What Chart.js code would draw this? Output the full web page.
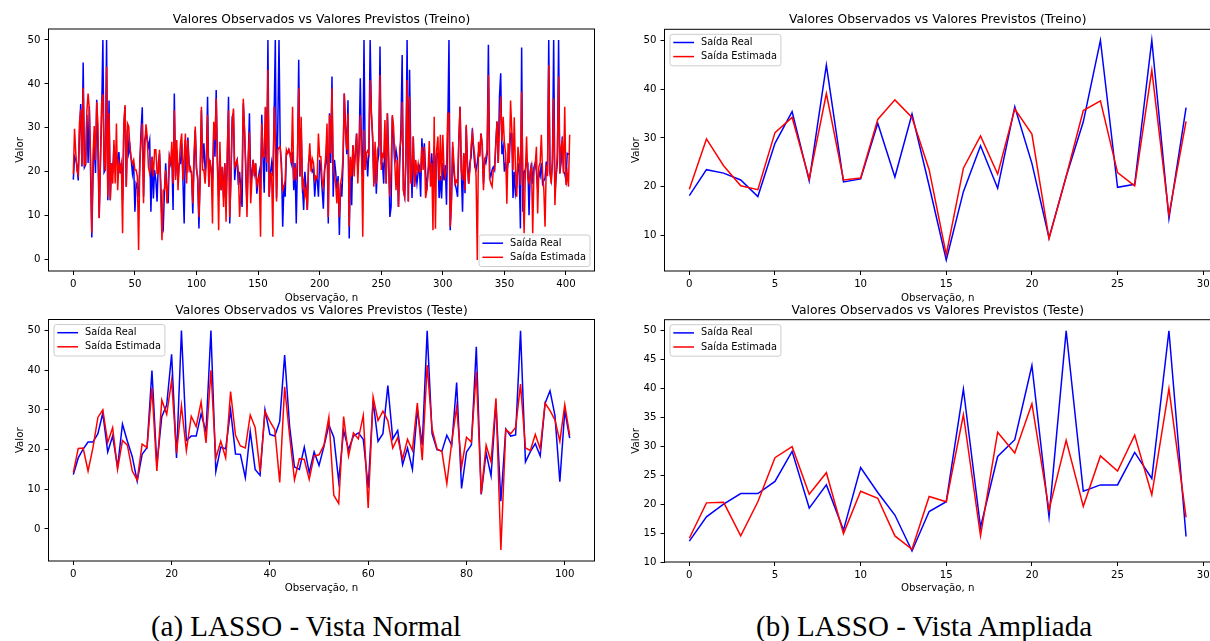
<!DOCTYPE html>
<html>
<head>
<meta charset="utf-8">
<script src="https://cdn.jsdelivr.net/npm/chart.js@4/dist/chart.umd.min.js"></script>
<style>
  html, body { margin: 0; padding: 0; background: #fff; overflow: hidden; }
  #page { position: relative; width: 1210px; height: 641px; overflow: hidden; background: #fff; }
  canvas { position: absolute; }
  .caption {
    position: absolute; top: 610px; line-height: 33px;
    font-family: 'Liberation Serif', 'DejaVu Serif', serif; font-size: 29px;
    white-space: nowrap; transform: translateX(-50%); color: #000;
  }
</style>
</head>
<body>
<div id="page">
  <canvas id="trainFull" width="605" height="308" style="left:0;top:0"></canvas>
  <canvas id="testFull" width="605" height="308" style="left:0;top:290px"></canvas>
  <canvas id="trainZoom" width="610" height="308" style="left:616px;top:0"></canvas>
  <canvas id="testZoom" width="610" height="308" style="left:616px;top:290px"></canvas>
  <div class="caption" style="left:306px">(a) LASSO - Vista Normal</div>
  <div class="caption" style="left:924px">(b) LASSO - Vista Ampliada</div>
</div>
<script>
// Observed (real) and LASSO-predicted target values, training set (404 samples)
const trainReal = [
  18.2, 23.5, 22.8, 21.4, 18.0, 28.9, 35.4, 21.2, 44.9, 21.0,
  21.6, 33.0, 22.0, 34.9, 20.2, 5.0, 19.0, 28.4, 19.7, 36.4,
  24.8, 9.5, 22.1, 33.3, 50.0, 19.9, 20.5, 50.0, 13.5, 36.2,
  13.5, 21.9, 19.6, 26.0, 21.0, 24.2, 21.9, 24.5, 19.6, 21.9,
  13.5, 30.3, 34.8, 16.6, 29.5, 24.2, 25.7, 22.7, 19.6, 21.9,
  10.9, 17.3, 16.6, 14.3, 21.9, 29.5, 34.7, 14.3, 27.2, 28.7,
  27.2, 25.7, 27.2, 10.9, 23.4, 13.9, 20.4, 18.1, 13.2, 21.9,
  24.2, 17.3, 8.2, 7.1, 15.8, 21.9, 15.1, 12.8, 23.4, 21.9,
  23.4, 11.3, 37.8, 18.9, 25.0, 18.1, 21.9, 21.9, 26.5, 18.1,
  8.2, 27.2, 19.6, 27.8, 21.9, 20.0, 20.0, 10.5, 22.0, 29.5,
  21.0, 18.0, 7.1, 20.0, 34.0, 21.9, 26.5, 20.4, 22.0, 37.1,
  16.6, 21.9, 20.4, 18.0, 29.5, 23.4, 38.6, 22.0, 14.3, 24.0,
  15.8, 21.1, 14.0, 21.9, 12.8, 22.0, 37.1, 8.2, 20.0, 32.5,
  33.3, 18.1, 21.9, 22.7, 17.0, 20.0, 15.8, 12.0, 35.6, 29.5,
  20.0, 11.9, 22.7, 33.3, 17.3, 20.0, 22.7, 19.0, 21.9, 15.0,
  18.1, 20.0, 16.0, 33.0, 23.4, 15.2, 34.7, 20.0, 50.0, 14.3,
  19.6, 22.0, 19.0, 32.0, 50.0, 14.0, 30.0, 50.0, 25.4, 21.9,
  7.5, 17.0, 14.3, 24.2, 24.2, 25.0, 24.0, 22.0, 24.5, 15.8,
  22.0, 8.2, 22.0, 45.5, 18.9, 30.0, 17.0, 11.3, 20.0, 16.0,
  11.3, 21.9, 24.0, 22.0, 20.0, 20.5, 14.3, 18.9, 18.5, 14.3,
  22.7, 20.4, 16.0, 11.6, 20.4, 22.0, 28.0, 8.2, 33.3, 22.0,
  41.7, 14.3, 22.7, 20.0, 16.0, 19.0, 5.6, 17.3, 14.3, 22.0,
  37.8, 30.3, 24.0, 36.3, 4.8, 22.7, 12.4, 26.0, 21.1, 24.0,
  28.7, 20.0, 25.0, 41.3, 24.2, 18.9, 50.0, 21.9, 24.0, 18.9,
  25.0, 50.0, 33.3, 28.0, 17.3, 25.0, 15.0, 22.0, 24.0, 48.5,
  21.9, 22.0, 17.3, 28.0, 17.3, 33.3, 24.0, 9.7, 12.0, 32.5,
  28.0, 21.9, 25.0, 23.0, 12.0, 22.0, 30.0, 46.6, 15.8, 14.3,
  22.0, 50.0, 13.2, 43.2, 24.0, 14.0, 28.0, 16.6, 20.0, 17.3,
  20.0, 21.0, 14.3, 27.6, 22.0, 26.5, 20.0, 15.8, 20.0, 22.0,
  20.0, 24.2, 18.0, 25.7, 20.0, 24.0, 24.2, 14.0, 19.0, 13.9,
  22.0, 18.0, 21.5, 12.5, 29.5, 50.0, 6.7, 14.0, 25.7, 20.0,
  17.3, 16.0, 14.3, 27.0, 34.8, 20.4, 10.9, 24.2, 15.1, 30.2,
  22.0, 17.3, 22.0, 23.4, 29.9, 25.0, 21.1, 20.4, 22.0, 24.5,
  24.2, 28.7, 26.0, 17.3, 22.7, 22.0, 24.0, 48.9, 20.0, 18.9,
  20.4, 21.1, 20.4, 26.5, 31.4, 22.0, 37.1, 42.4, 24.0, 25.7,
  20.0, 22.0, 20.0, 22.0, 24.0, 28.7, 28.7, 14.0, 20.0, 15.0,
  16.6, 22.0, 20.0, 7.1, 48.3, 10.9, 20.0, 20.4, 22.0, 22.0,
  10.1, 20.0, 22.0, 17.3, 21.0, 22.0, 20.0, 16.0, 20.0, 19.0,
  22.0, 17.3, 18.0, 18.5, 22.3, 20.0, 50.0, 19.6, 18.0, 22.0,
  50.0, 14.8, 19.0, 22.0, 50.0, 19.6, 22.0, 28.0, 20.0, 19.6,
  18.0, 24.2, 24.0, 24.2
];
const trainPred = [
  19.5, 29.8, 24.3, 20.2, 19.4, 31.1, 34.2, 21.6, 39.1, 21.4,
  21.8, 33.8, 37.8, 34.2, 23.5, 6.1, 23.8, 30.4, 22.6, 35.9,
  30.8, 9.4, 22.1, 35.6, 37.6, 22.9, 20.2, 43.9, 14.3, 33.4,
  13.5, 21.9, 17.3, 27.2, 17.3, 31.0, 15.8, 21.9, 20.4, 21.9,
  6.0, 31.0, 35.2, 16.6, 31.0, 30.3, 25.3, 23.0, 21.9, 22.7,
  20.4, 20.4, 18.9, 2.2, 21.9, 27.2, 31.0, 12.8, 25.7, 30.8,
  28.0, 21.1, 19.6, 21.1, 23.4, 18.9, 25.0, 25.0, 19.6, 19.6,
  25.0, 14.3, 4.4, 15.8, 15.8, 20.4, 12.8, 17.3, 23.4, 21.9,
  26.8, 17.3, 34.0, 18.1, 27.2, 15.8, 21.9, 26.5, 28.7, 18.1,
  23.4, 28.7, 17.3, 27.2, 20.4, 21.0, 19.5, 12.8, 24.0, 30.3,
  20.4, 19.0, 9.7, 18.0, 34.8, 20.4, 20.4, 17.3, 22.0, 32.9,
  16.6, 22.7, 20.4, 8.2, 31.4, 27.2, 36.7, 22.0, 6.7, 26.8,
  15.8, 21.1, 12.0, 21.9, 8.6, 25.0, 34.0, 9.7, 18.0, 31.0,
  34.4, 21.1, 21.9, 22.7, 20.0, 9.7, 15.8, 19.0, 36.6, 29.5,
  22.0, 9.7, 22.7, 29.0, 12.8, 18.0, 22.7, 19.6, 21.9, 17.0,
  18.1, 19.0, 5.2, 31.0, 23.4, 23.4, 34.8, 22.0, 43.2, 14.3,
  19.6, 19.6, 5.2, 34.8, 28.0, 13.2, 25.0, 25.5, 25.7, 20.4,
  15.8, 16.6, 18.0, 25.0, 24.2, 25.0, 24.0, 22.0, 34.8, 18.0,
  21.0, 18.0, 23.4, 39.0, 18.9, 32.5, 16.6, 18.0, 14.3, 16.0,
  11.3, 21.9, 26.5, 20.0, 23.0, 22.0, 18.0, 18.9, 18.5, 28.7,
  23.4, 23.4, 18.0, 16.6, 20.4, 24.0, 31.0, 9.7, 32.9, 24.2,
  39.0, 21.9, 18.9, 17.3, 12.8, 18.0, 9.7, 17.3, 19.0, 23.4,
  37.8, 28.7, 25.0, 33.3, 7.5, 23.4, 18.9, 26.0, 18.9, 25.0,
  28.7, 17.3, 26.0, 32.9, 24.2, 5.2, 29.5, 20.4, 24.2, 24.8,
  24.0, 40.9, 33.3, 28.0, 16.6, 26.8, 17.3, 25.0, 26.0, 42.0,
  20.4, 24.0, 23.4, 31.8, 17.3, 33.3, 21.1, 14.3, 20.4, 32.9,
  30.3, 21.9, 15.8, 22.7, 12.0, 25.3, 27.0, 35.9, 15.8, 14.3,
  23.4, 40.9, 13.2, 37.1, 17.3, 20.0, 28.0, 16.6, 22.7, 20.0,
  21.9, 20.0, 20.0, 25.7, 20.4, 25.7, 14.0, 15.8, 20.0, 27.0,
  16.6, 22.0, 6.7, 32.5, 7.0, 25.0, 28.0, 18.0, 28.4, 18.0,
  28.4, 20.4, 18.9, 21.1, 33.3, 33.3, 7.5, 12.8, 26.8, 21.9,
  17.3, 18.0, 17.3, 27.2, 34.8, 20.4, 18.1, 24.2, 15.8, 30.7,
  21.0, 17.3, 20.4, 26.1, 28.7, 25.7, 23.4, 18.9, -0.1, 26.8,
  23.4, 28.7, 26.0, 15.8, 22.7, 23.4, 25.0, 42.0, 18.5, 17.3,
  16.6, 20.4, 20.4, 26.0, 31.5, 22.0, 30.3, 37.1, 27.0, 32.5,
  26.5, 24.0, 12.7, 26.5, 22.0, 36.2, 29.5, 20.4, 32.4, 20.4,
  14.3, 25.7, 23.0, 17.0, 38.2, 17.3, 6.0, 19.6, 28.0, 18.4,
  17.5, 20.0, 21.3, 6.0, 20.4, 21.5, 25.7, 10.5, 21.1, 22.0,
  28.4, 19.6, 16.0, 7.5, 21.5, 19.0, 44.3, 20.4, 17.3, 23.0,
  36.7, 12.4, 19.6, 24.0, 41.7, 19.6, 25.7, 27.0, 19.6, 34.8,
  17.0, 19.6, 16.6, 28.4
];

// Test set (102 samples)
const testReal = [
  13.7, 17.9, 20.1, 21.9, 21.9, 24.0, 29.2, 19.4, 23.4, 15.6,
  26.4, 22.1, 18.2, 12.0, 18.8, 20.5, 39.9, 16.1, 28.3, 31.2,
  44.0, 17.9, 50.0, 22.3, 23.4, 23.4, 29.0, 24.5, 50.0, 14.5,
  20.6, 20.2, 30.0, 18.9, 18.8, 12.9, 24.6, 15.0, 13.5, 30.0,
  23.8, 23.4, 27.1, 43.8, 26.0, 15.6, 15.0, 20.6, 14.2, 19.4,
  16.0, 20.8, 26.2, 23.1, 12.0, 24.8, 20.0, 23.4, 24.2, 22.6,
  10.4, 32.3, 22.1, 24.0, 36.1, 22.7, 24.8, 16.2, 20.4, 15.0,
  30.0, 21.1, 49.9, 24.0, 20.0, 19.6, 23.6, 21.1, 36.9, 10.2,
  19.4, 21.2, 45.9, 8.7, 19.2, 13.4, 31.7, 7.0, 25.2, 23.4,
  23.7, 49.9, 16.9, 19.5, 21.5, 18.4, 31.7, 34.8, 28.6, 11.9,
  29.8, 22.9
];
const testPred = [
  14.2, 20.3, 20.4, 14.6, 20.5, 28.1, 30.0, 21.8, 25.5, 15.0,
  22.3, 21.1, 14.6, 12.3, 21.4, 20.5, 35.5, 14.6, 32.5, 28.9,
  37.4, 19.1, 31.1, 19.7, 28.4, 25.8, 32.0, 21.7, 40.0, 17.8,
  22.1, 17.9, 34.6, 23.6, 20.9, 20.4, 28.7, 25.6, 14.4, 29.6,
  27.1, 25.0, 11.7, 35.8, 23.6, 12.4, 17.7, 17.5, 12.5, 18.4,
  18.7, 21.1, 28.2, 8.5, 6.4, 28.3, 18.4, 24.2, 22.7, 28.6,
  5.3, 33.3, 27.3, 29.7, 27.3, 20.4, 23.0, 17.7, 22.6, 19.8,
  31.7, 17.3, 41.3, 25.2, 20.2, 19.5, 11.4, 21.9, 30.7, 15.6,
  23.1, 21.9, 39.6, 8.9, 21.1, 16.9, 32.9, -5.3, 25.1, 24.0,
  25.6, 36.5, 20.4, 19.8, 23.8, 20.2, 31.7, 29.8, 27.5, 22.1,
  31.3, 23.6
];

// The enlarged views show the first 30 observations
const ZOOM_N = 30;

const fullTrainTicksX = [0, 50, 100, 150, 200, 250, 300, 350, 400];
const fullTestTicksX = [0, 20, 40, 60, 80, 100];
const zoomTicksX = [0, 5, 10, 15, 20, 25, 30];
const fullTicksY = [0, 10, 20, 30, 40, 50];
const zoomTrainTicksY = [10, 20, 30, 40, 50];
const zoomTestTicksY = [10, 15, 20, 25, 30, 35, 40, 45, 50];

const titleTrain = 'Valores Observados vs Valores Previstos (Treino)';
const titleTest = 'Valores Observados vs Valores Previstos (Teste)';
const labelReal = 'Saída Real';
const labelPred = 'Saída Estimada';

Chart.defaults.font.family = "'DejaVu Sans', sans-serif";
Chart.defaults.color = '#000';

// matplotlib-like autoscale: 5% margin on each side
function margins(lo, hi) {
  const pad = (hi - lo) * 0.05;
  return [lo - pad, hi + pad];
}

// full box around the plot area (all four spines)
const frame = {
  id: 'frame',
  afterDatasetsDraw(chart) {
    const { ctx, chartArea: a } = chart;
    ctx.save();
    ctx.strokeStyle = '#000';
    ctx.lineWidth = 1;
    ctx.strokeRect(a.left, a.top, a.right - a.left, a.bottom - a.top);
    ctx.restore();
  }
};

const plotTitle = {
  id: 'plotTitle',
  afterDraw(chart, args, opts) {
    const { ctx, chartArea: a } = chart;
    ctx.save();
    ctx.font = "12.3px 'DejaVu Sans'";
    ctx.fillStyle = '#000';
    ctx.textAlign = 'center';
    ctx.textBaseline = 'alphabetic';
    ctx.fillText(opts.text, (a.left + a.right) / 2, a.top - 6);
    ctx.restore();
  }
};

// boxed legend with short line samples, placed inside the plot area
const boxLegend = {
  id: 'boxLegend',
  afterDraw(chart, args, opts) {
    const { ctx, chartArea: a } = chart;
    const items = chart.data.datasets.map(d => ({ label: d.label, color: d.borderColor }));
    ctx.save();
    ctx.font = "9.8px 'DejaVu Sans'";
    const textW = Math.max(...items.map(it => ctx.measureText(it.label).width));
    const w = 31 + textW + 4;
    const h = 31.5;
    const x = opts.corner === 'lowerRight' ? a.right - 4.5 - w : a.left + 5.5;
    const y = opts.corner === 'lowerRight' ? a.bottom - 4.5 - h : a.top + 5;
    ctx.beginPath();
    ctx.roundRect(x, y, w, h, 2.5);
    ctx.fillStyle = 'rgba(255,255,255,0.8)';
    ctx.fill();
    ctx.strokeStyle = '#cccccc';
    ctx.lineWidth = 1;
    ctx.stroke();
    items.forEach((it, k) => {
      const cy = y + 8.2 + k * 14.1;
      ctx.beginPath();
      ctx.moveTo(x + 3.3, cy);
      ctx.lineTo(x + 24, cy);
      ctx.strokeStyle = it.color;
      ctx.lineWidth = 1.5;
      ctx.stroke();
      ctx.fillStyle = '#000';
      ctx.textBaseline = 'middle';
      ctx.fillText(it.label, x + 31, cy);
    });
    ctx.restore();
  }
};

function makeChart(id, real, pred, opts) {
  const n = real.length;
  const lo = Math.min(...real, ...pred);
  const hi = Math.max(...real, ...pred);
  const yr = margins(lo, hi);
  const xr = margins(0, n - 1);
  const points = arr => arr.map((v, i) => ({ x: i, y: v }));

  return new Chart(document.getElementById(id), {
    type: 'line',
    data: {
      datasets: [
        { label: labelReal, data: points(real), borderColor: '#0000ff', borderWidth: 1.5, order: 1 },
        { label: labelPred, data: points(pred), borderColor: '#ff0000', borderWidth: 1.5, order: 0 }
      ]
    },
    options: {
      responsive: false,
      animation: false,
      events: [],
      elements: { point: { radius: 0 }, line: { tension: 0 } },
      layout: { padding: { left: 0, top: opts.top, right: opts.right, bottom: 0 } },
      plugins: {
        legend: { display: false },
        tooltip: { enabled: false },
        plotTitle: { text: opts.title },
        boxLegend: { corner: opts.legend }
      },
      scales: {
        x: {
          type: 'linear',
          min: xr[0],
          max: xr[1],
          afterBuildTicks: s => { s.ticks = opts.ticksX.map(v => ({ value: v })); },
          afterFit: s => { s.height = opts.xHeight; },
          grid: { drawOnChartArea: false, drawTicks: true, tickLength: 4, color: '#000' },
          border: { display: false },
          ticks: { padding: 3, maxRotation: 0, autoSkip: false, font: { size: 10.2 } },
          title: { display: true, text: 'Observação, n', padding: { top: 2 }, font: { size: 10.2 } }
        },
        y: {
          type: 'linear',
          min: yr[0],
          max: yr[1],
          afterBuildTicks: s => { s.ticks = opts.ticksY.map(v => ({ value: v })); },
          afterFit: s => { s.width = 48.5; },
          grid: { drawOnChartArea: false, drawTicks: true, tickLength: 4, color: '#000' },
          border: { display: false },
          ticks: { padding: 4, autoSkip: false, font: { size: 10.2 } },
          title: { display: true, text: 'Valor', padding: { top: 14 }, font: { size: 10.2 } }
        }
      }
    },
    plugins: [frame, plotTitle, boxLegend]
  });
}

makeChart('trainFull', trainReal, trainPred, {
  title: titleTrain, legend: 'lowerRight', top: 29, right: 10.5, xHeight: 37,
  ticksX: fullTrainTicksX, ticksY: fullTicksY
});
makeChart('testFull', testReal, testPred, {
  title: titleTest, legend: 'upperLeft', top: 29.5, right: 10.5, xHeight: 37,
  ticksX: fullTestTicksX, ticksY: fullTicksY
});
makeChart('trainZoom', trainReal.slice(0, ZOOM_N), trainPred.slice(0, ZOOM_N), {
  title: titleTrain, legend: 'upperLeft', top: 29.3, right: 15.1, xHeight: 37,
  ticksX: zoomTicksX, ticksY: zoomTrainTicksY
});
makeChart('testZoom', testReal.slice(0, ZOOM_N), testPred.slice(0, ZOOM_N), {
  title: titleTest, legend: 'upperLeft', top: 29.7, right: 15.1, xHeight: 36,
  ticksX: zoomTicksX, ticksY: zoomTestTicksY
});
</script>
</body>
</html>
